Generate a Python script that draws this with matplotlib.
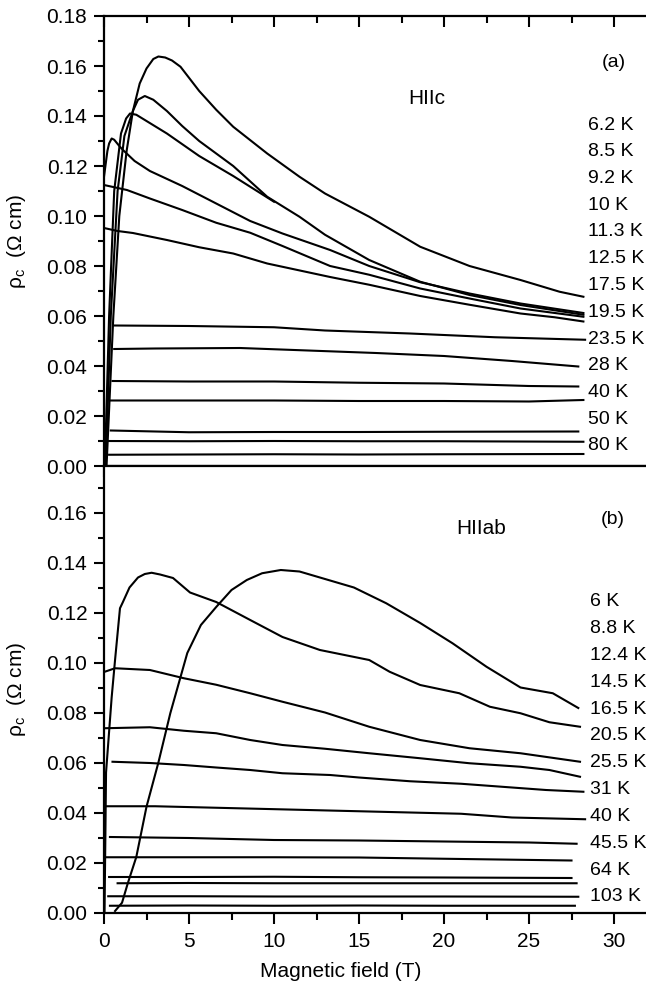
import matplotlib.pyplot as plt
from matplotlib.ticker import MultipleLocator, FormatStrFormatter

plt.rcParams['font.family'] = ['Liberation Sans', 'DejaVu Sans']
plt.rcParams['mathtext.fontset'] = 'custom'
plt.rcParams['mathtext.rm'] = 'Liberation Sans'
plt.rcParams['mathtext.it'] = 'Liberation Sans:italic'

# ---- panel (a): H || c ----
labels_a = ['6.2 K', '8.5 K', '9.2 K', '10 K', '11.3 K', '12.5 K', '17.5 K',
            '19.5 K', '23.5 K', '28 K', '40 K', '50 K', '80 K']

a_62_B = [0.15, 0.35, 0.55, 0.9, 1.33, 1.7, 2.1, 2.5, 2.9, 3.2, 3.6, 4.0, 4.5,
          5.6, 6.6, 7.6, 9.6, 11.5, 13.0, 15.6, 18.6, 21.5, 24.5, 26.8, 28.2]
a_62_r = [0.0, 0.03, 0.06, 0.10, 0.126, 0.142, 0.153, 0.159, 0.1628, 0.1638,
          0.1634, 0.1622, 0.1597, 0.150, 0.1425, 0.1357, 0.125, 0.1157, 0.109,
          0.0997, 0.0877, 0.080, 0.0744, 0.0697, 0.0677]

a_85_B = [0.1, 0.4, 0.8, 1.2, 1.7, 2.0, 2.4, 2.9, 3.7, 4.6, 5.6, 7.6, 9.6,
          11.5, 13.0, 15.6, 18.6, 21.5, 24.5, 28.2]
a_85_r = [0.0, 0.06, 0.11, 0.132, 0.142, 0.1465, 0.148, 0.1465, 0.142, 0.136,
          0.130, 0.120, 0.1077, 0.0997, 0.0925, 0.0824, 0.0737, 0.0684, 0.0644,
          0.0605]

a_92_B = [0.05, 0.3, 0.6, 1.0, 1.3, 1.53, 1.9, 2.5, 3.7, 5.6, 7.6, 10.0]
a_92_r = [0.0, 0.06, 0.11, 0.133, 0.139, 0.141, 0.1405, 0.138, 0.133, 0.124,
          0.116, 0.1057]

a_10_B = [0.0, 0.2, 0.3, 0.45, 0.6, 0.9, 1.1, 1.8, 2.7, 4.6, 6.6, 8.6, 10.5,
          13.3, 15.6, 18.6, 21.5, 24.5, 28.2]
a_10_r = [0.1157, 0.126, 0.129, 0.131, 0.1305, 0.128, 0.1265, 0.122, 0.118,
          0.112, 0.105, 0.098, 0.093, 0.0864, 0.080, 0.0735, 0.069, 0.065, 0.0612]

a_113_B = [0.0, 1.35, 2.7, 4.6, 6.6, 8.6, 10.5, 13.3, 15.6, 18.6, 21.5, 24.5, 28.2]
a_113_r = [0.1124, 0.1104, 0.107, 0.1024, 0.0973, 0.0933, 0.088, 0.080, 0.0765,
           0.071, 0.067, 0.063, 0.0597]

a_125_B = [0.0, 0.8, 1.7, 3.7, 5.6, 7.6, 9.6, 13.3, 15.6, 18.6, 21.5, 24.5,
           26.5, 28.2]
a_125_r = [0.0952, 0.094, 0.0932, 0.0904, 0.0875, 0.0850, 0.0810, 0.0756,
           0.0725, 0.068, 0.0645, 0.061, 0.0595, 0.0578]

a_175_B = [0.6, 5.0, 10.0, 13.0, 18.0, 23.0, 28.3]
a_175_r = [0.0562, 0.0560, 0.0555, 0.0542, 0.0530, 0.0515, 0.0505]

a_195_B = [0.6, 3.0, 8.0, 12.0, 16.0, 20.0, 24.0, 27.9]
a_195_r = [0.0468, 0.0470, 0.0472, 0.0462, 0.0452, 0.0440, 0.0420, 0.0398]

a_235_B = [0.5, 5.0, 10.0, 15.0, 20.0, 25.0, 27.9]
a_235_r = [0.0340, 0.0338, 0.0338, 0.0333, 0.0330, 0.0320, 0.0318]

a_28_B = [0.4, 5.0, 10.0, 15.0, 20.0, 25.0, 28.2]
a_28_r = [0.0262, 0.0262, 0.0262, 0.0260, 0.0260, 0.0258, 0.0264]

a_40_B = [0.4, 5.0, 10.0, 15.0, 20.0, 27.9]
a_40_r = [0.0142, 0.0135, 0.0136, 0.0136, 0.0137, 0.0138]

a_50_B = [0.0, 5.0, 10.0, 15.0, 20.0, 28.2]
a_50_r = [0.0100, 0.0099, 0.0100, 0.0099, 0.0099, 0.0097]

a_80_B = [0.3, 5.0, 10.0, 15.0, 20.0, 28.2]
a_80_r = [0.0045, 0.0046, 0.0047, 0.0046, 0.0047, 0.0048]

# ---- panel (b): H || ab ----
labels_b = ['6 K', '8.8 K', '12.4 K', '14.5 K', '16.5 K', '20.5 K', '25.5 K',
            '31 K', '40 K', '45.5 K', '64 K', '103 K']

b_6_B = [0.65, 1.06, 1.4, 1.9, 2.5, 3.2, 3.9, 4.9, 5.7, 6.6, 7.5, 8.4, 9.3,
         10.4, 11.5, 12.7, 14.7, 16.6, 18.6, 20.5, 22.5, 24.5, 26.4, 27.9]
b_6_r = [0.0006, 0.0039, 0.0117, 0.0222, 0.0423, 0.060, 0.0797, 0.1038, 0.115,
         0.1222, 0.1290, 0.133, 0.1357, 0.137, 0.1364, 0.134, 0.130, 0.1237,
         0.1158, 0.1077, 0.0983, 0.090, 0.0877, 0.0818]

b_88_B = [0.03, 0.08, 0.12, 0.45, 0.65, 0.94, 1.1, 1.5, 2.0, 2.4, 2.8, 3.3,
          4.06, 5.06, 6.6, 8.6, 10.5, 12.7, 15.6, 16.8, 18.6, 20.9, 22.7, 24.5,
          26.2, 28.0]
b_88_r = [0.0, 0.03, 0.056, 0.086, 0.101, 0.1217, 0.124, 0.130, 0.134, 0.1354,
          0.1359, 0.1352, 0.1338, 0.128, 0.1242, 0.117, 0.1102, 0.105, 0.101,
          0.0963, 0.091, 0.0877, 0.0823, 0.0797, 0.0761, 0.0743]

b_124_B = [0.0, 0.65, 2.7, 4.7, 6.6, 8.6, 10.5, 13.0, 15.6, 18.6, 21.5, 24.5, 28.0]
b_124_r = [0.0962, 0.0977, 0.097, 0.0937, 0.0911, 0.0877, 0.0843, 0.080,
           0.0743, 0.069, 0.0657, 0.0637, 0.0603]

b_145_B = [0.0, 2.7, 4.7, 6.6, 8.6, 10.5, 13.0, 15.6, 18.6, 21.5, 24.5, 26.2, 28.0]
b_145_r = [0.0737, 0.0741, 0.0727, 0.0717, 0.069, 0.067, 0.0655, 0.0637,
           0.0617, 0.0597, 0.0583, 0.057, 0.0543]

b_165_B = [0.5, 2.7, 4.7, 6.6, 8.6, 10.5, 13.3, 15.0, 18.0, 21.0, 24.0, 26.0, 28.2]
b_165_r = [0.0603, 0.0598, 0.059, 0.058, 0.057, 0.0557, 0.055, 0.054, 0.0525,
           0.0515, 0.050, 0.049, 0.0483]

b_205_B = [0.0, 3.0, 6.0, 9.0, 12.0, 15.0, 18.0, 21.0, 24.0, 28.3]
b_205_r = [0.0425, 0.0425, 0.042, 0.0415, 0.041, 0.0405, 0.040, 0.0395, 0.038, 0.0373]

b_255_B = [0.35, 5.0, 10.0, 15.0, 20.0, 25.0, 27.8]
b_255_r = [0.0302, 0.0298, 0.029, 0.0288, 0.0284, 0.028, 0.0275]

b_31_B = [0.0, 5.0, 10.0, 15.0, 20.0, 27.5]
b_31_r = [0.0221, 0.0221, 0.0221, 0.022, 0.0215, 0.0208]

b_40_B = [0.3, 5.0, 10.0, 15.0, 20.0, 27.5]
b_40_r = [0.0142, 0.0142, 0.0143, 0.0141, 0.014, 0.0138]

b_455_B = [0.8, 5.0, 10.0, 15.0, 20.0, 27.8]
b_455_r = [0.0117, 0.0118, 0.0117, 0.0117, 0.0117, 0.0117]

b_64_B = [0.25, 5.0, 10.0, 15.0, 20.0, 27.9]
b_64_r = [0.0065, 0.0065, 0.0064, 0.0064, 0.0064, 0.0063]

b_103_B = [0.35, 5.0, 10.0, 15.0, 20.0, 27.7]
b_103_r = [0.0027, 0.0028, 0.0027, 0.0028, 0.0027, 0.0027]

curves_a = [(a_62_B, a_62_r), (a_85_B, a_85_r), (a_92_B, a_92_r),
            (a_10_B, a_10_r), (a_113_B, a_113_r), (a_125_B, a_125_r),
            (a_175_B, a_175_r), (a_195_B, a_195_r), (a_235_B, a_235_r),
            (a_28_B, a_28_r), (a_40_B, a_40_r), (a_50_B, a_50_r), (a_80_B, a_80_r)]
curves_b = [(b_6_B, b_6_r), (b_88_B, b_88_r), (b_124_B, b_124_r),
            (b_145_B, b_145_r), (b_165_B, b_165_r), (b_205_B, b_205_r),
            (b_255_B, b_255_r), (b_31_B, b_31_r), (b_40_B, b_40_r),
            (b_455_B, b_455_r), (b_64_B, b_64_r), (b_103_B, b_103_r)]

W, H = 646, 983
fig = plt.figure(figsize=(W / 100, H / 100), dpi=100)
x0 = 104 / W
ax1 = fig.add_axes([x0, 1 - 466 / H, 1 - x0, 450 / H])
ax2 = fig.add_axes([x0, 1 - 912.5 / H, 1 - x0, 446.5 / H])

fs = 15
lfs = 14
ylab = 'ρ$_{\\mathrm{c}}$  (Ω cm)'

for ax, curves in ((ax1, curves_a), (ax2, curves_b)):
    for B, r in curves:
        ax.plot(B, r, color='black', lw=1.5)
    ax.set_xlim(0, (W - 104) / 17)
    ax.spines['right'].set_visible(False)
    for s in ('left', 'top', 'bottom'):
        ax.spines[s].set_linewidth(1.6)
    ax.xaxis.set_major_locator(MultipleLocator(5))
    ax.xaxis.set_minor_locator(MultipleLocator(2.5))
    ax.yaxis.set_major_locator(MultipleLocator(0.02))
    ax.yaxis.set_minor_locator(MultipleLocator(0.01))
    ax.yaxis.set_major_formatter(FormatStrFormatter('%.2f'))
    ax.tick_params(axis='y', which='major', direction='out', length=7,
                   width=1.5, labelsize=fs, pad=5)
    ax.tick_params(axis='y', which='minor', direction='out', length=4, width=1.5)
    ax.set_ylabel(ylab, fontsize=fs)
    ax.yaxis.set_label_coords(-(104 - 28) / (W - 104), 0.5)

ax1.set_ylim(0, 0.18)
ax2.set_ylim(0, 0.1786)

ax1.tick_params(axis='x', which='both', top=True, bottom=True, direction='out',
                labelbottom=False, width=1.5)
ax1.tick_params(axis='x', which='major', length=8)
ax1.tick_params(axis='x', which='minor', length=5)
# top spine ticks point inward
for t in ax1.xaxis.get_major_ticks() + ax1.xaxis.get_minor_ticks():
    t.tick2line.set_marker(3)

ax2.tick_params(axis='x', which='both', top=False, direction='out', width=1.5,
                labelsize=fs, pad=6)
ax2.tick_params(axis='x', which='major', length=8)
ax2.tick_params(axis='x', which='minor', length=5)
ax2.set_xlabel('Magnetic field (T)', fontsize=fs)
ax2.xaxis.set_label_coords(0.437, -0.11)

# temperature labels
for i, lab in enumerate(labels_a):
    ax1.text(28.47, 0.1364 - i * 0.0107, lab, fontsize=lfs, va='center', ha='left')
for i, lab in enumerate(labels_b):
    ax2.text(28.6, 0.1243 - i * 0.01073, lab, fontsize=lfs, va='center', ha='left')

ax1.text(30.0, 0.1612, '(a)', fontsize=lfs, va='center', ha='center')
ax1.text(19.0, 0.1472, 'HIIc', fontsize=lfs + 1, va='center', ha='center')
ax2.text(29.95, 0.1574, '(b)', fontsize=lfs, va='center', ha='center')
ax2.text(22.2, 0.1538, 'HIIab', fontsize=lfs + 1, va='center', ha='center')

fig.savefig('out.png', dpi=100)
